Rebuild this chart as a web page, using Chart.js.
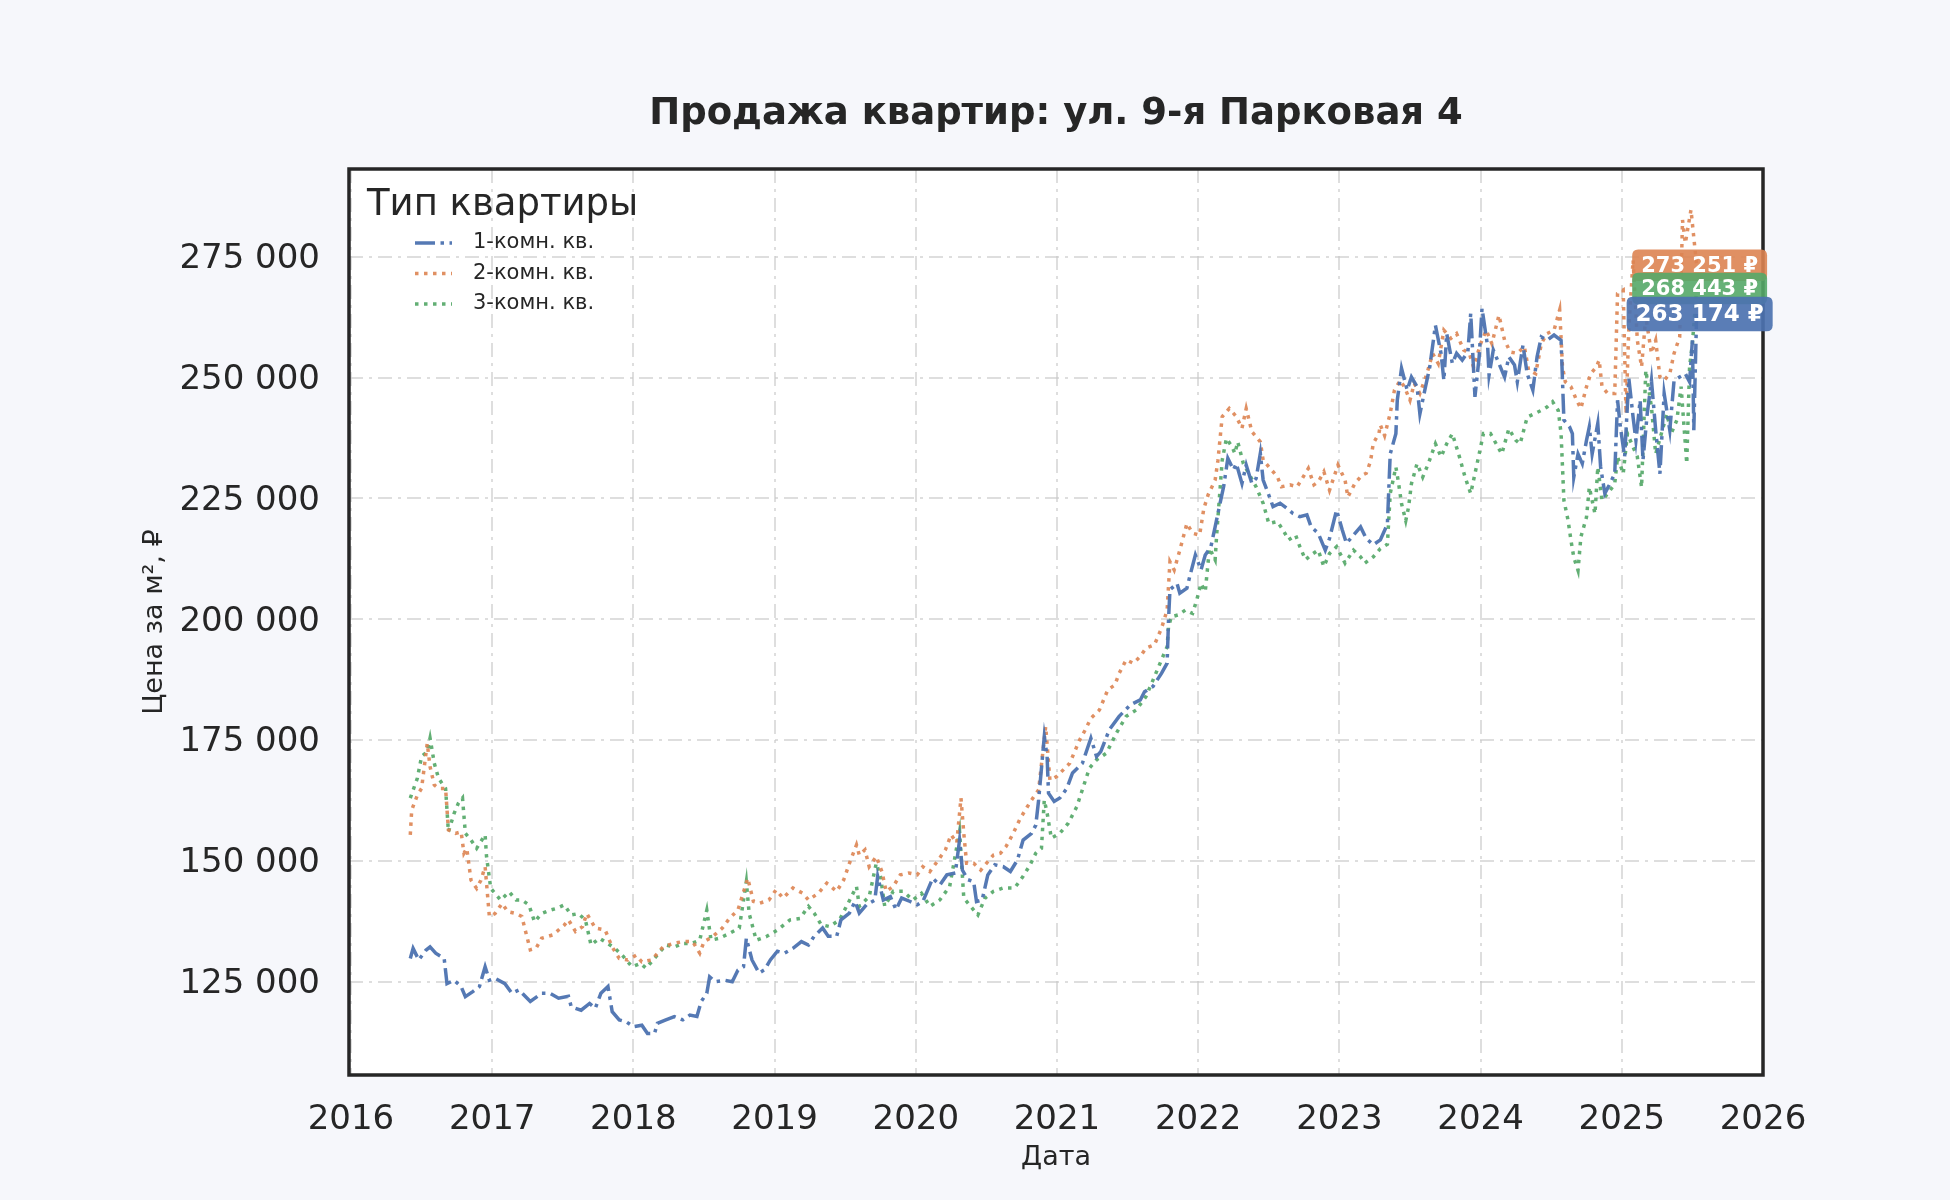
<!DOCTYPE html>
<html lang="ru">
<head>
<meta charset="utf-8">
<title>Продажа квартир: ул. 9-я Парковая 4</title>
<script src="https://cdn.jsdelivr.net/npm/chart.js"></script>
<style>
  html, body { margin: 0; padding: 0; background: #f6f7fb; }
  canvas { display: block; }
</style>
</head>
<body>
<canvas id="chart" width="1950" height="1200"></canvas>
<script>
// --- data ---
const yearTicks = [2016, 2017, 2018, 2019, 2020, 2021, 2022, 2023, 2024, 2025, 2026];
const priceTicks = [125000, 150000, 175000, 200000, 225000, 250000, 275000];
const seriesNames = ['1-комн. кв.', '2-комн. кв.', '3-комн. кв.'];

// 1-комн. кв.
const dates1 = [2016.42, 2016.44, 2016.48, 2016.53, 2016.56, 2016.60, 2016.66, 2016.68, 2016.73, 2016.78, 2016.81, 2016.86, 2016.91, 2016.95, 2016.98,
  2017.02, 2017.09, 2017.14, 2017.19, 2017.27, 2017.35, 2017.41, 2017.47, 2017.54, 2017.56, 2017.63, 2017.69, 2017.73, 2017.77, 2017.82, 2017.85, 2017.90, 2017.95,
  2018.00, 2018.06, 2018.10, 2018.15, 2018.17, 2018.23, 2018.29, 2018.35, 2018.40, 2018.45, 2018.48, 2018.52, 2018.54, 2018.58, 2018.65, 2018.70, 2018.74, 2018.78, 2018.80, 2018.84, 2018.89, 2018.93, 2018.97,
  2019.02, 2019.07, 2019.13, 2019.19, 2019.24, 2019.28, 2019.34, 2019.38, 2019.44, 2019.47, 2019.53, 2019.57, 2019.60, 2019.65, 2019.71, 2019.73, 2019.77, 2019.82, 2019.86, 2019.90, 2019.96,
  2020.01, 2020.05, 2020.12, 2020.17, 2020.22, 2020.28, 2020.31, 2020.33, 2020.37, 2020.41, 2020.43, 2020.47, 2020.51, 2020.56, 2020.62, 2020.67, 2020.72, 2020.76, 2020.82, 2020.85, 2020.87, 2020.91, 2020.93, 2020.94, 2020.98,
  2021.02, 2021.07, 2021.11, 2021.18, 2021.24, 2021.28, 2021.31, 2021.37, 2021.44, 2021.52, 2021.59, 2021.62, 2021.68, 2021.74, 2021.78, 2021.79, 2021.80, 2021.85, 2021.87, 2021.92, 2021.94, 2021.98,
  2022.02, 2022.05, 2022.09, 2022.12, 2022.15, 2022.18, 2022.21, 2022.25, 2022.27, 2022.31, 2022.34, 2022.38, 2022.41, 2022.44, 2022.46, 2022.50, 2022.53, 2022.58, 2022.63, 2022.67, 2022.72, 2022.77, 2022.80, 2022.85, 2022.90, 2022.93, 2022.98,
  2023.02, 2023.05, 2023.10, 2023.15, 2023.19, 2023.24, 2023.29, 2023.34, 2023.36, 2023.40, 2023.41, 2023.44, 2023.48, 2023.51, 2023.55, 2023.57, 2023.61, 2023.64, 2023.68, 2023.72, 2023.74, 2023.76, 2023.80, 2023.83, 2023.87, 2023.91, 2023.93, 2023.96, 2023.99,
  2024.01, 2024.05, 2024.06, 2024.09, 2024.13, 2024.17, 2024.20, 2024.24, 2024.26, 2024.30, 2024.33, 2024.37, 2024.40, 2024.43, 2024.47, 2024.52, 2024.57, 2024.58, 2024.59, 2024.63, 2024.65, 2024.66, 2024.69, 2024.72, 2024.75, 2024.77, 2024.79, 2024.83, 2024.85, 2024.88, 2024.91, 2024.95, 2024.97, 2024.99,
  2025.02, 2025.05, 2025.08, 2025.10, 2025.13, 2025.15, 2025.18, 2025.21, 2025.24, 2025.27, 2025.30, 2025.34, 2025.37, 2025.41, 2025.45, 2025.48, 2025.50, 2025.51, 2025.53];
const price1 = [129800, 131900, 129500, 131500, 132200, 130900, 129800, 124600, 125300, 124000, 121900, 122900, 124000, 128100, 125300,
  125700, 124600, 122600, 123300, 120900, 122600, 122600, 121600, 122000, 119800, 119100, 120500, 119500, 122600, 124000, 118800, 117100, 116700,
  115700, 116000, 114300, 114300, 116400, 117100, 117800, 117100, 118100, 117800, 120900, 122600, 126000, 125000, 125300, 125000, 127400, 128100, 134000, 129500, 126800, 127500, 129500,
  131300, 130900, 131900, 133300, 132600, 134400, 136100, 134400, 134400, 137800, 139200, 141600, 139200, 140900, 141900, 146800, 141900, 142600, 139900, 142300, 141600,
  140900, 141600, 146400, 145000, 147100, 147500, 154300, 148100, 146100, 145700, 141600, 141900, 147100, 149200, 148800, 147800, 150200, 154300, 155700, 157400, 162600, 175700, 171600, 164000, 162300,
  163000, 165000, 168200, 170200, 175400, 171600, 172600, 177100, 179900, 182300, 183300, 185000, 186100, 188800, 190900, 199900, 206100, 207400, 205400, 206400, 208800, 213300,
  210200, 213300, 215000, 219100, 223300, 227400, 233300, 230900, 232200, 228100, 231900, 228100, 229100, 234300, 228800, 225700, 223300, 224000, 222900, 221900, 221200, 221600, 219100, 217800, 214300, 216700, 222600,
  218500, 215700, 217400, 219100, 216700, 215400, 216400, 219700, 234200, 238400, 245300, 251900, 247400, 250100, 248100, 242500, 248100, 252200, 260800, 255000, 249400, 259100, 252900, 255000, 253600, 255300, 263300, 246000, 254300,
  264300, 256400, 250500, 255700, 252900, 250100, 254300, 252600, 249100, 256700, 250800, 247400, 254300, 258400, 257700, 258800, 257700, 249400, 241200, 239800, 238400, 229400, 234200, 232200, 237000, 239800, 234200, 240500, 231500, 226000, 227700, 230100, 245300, 239800,
  233600, 249800, 241800, 237000, 245300, 232900, 242500, 249400, 239100, 230100, 246700, 239100, 249400, 250100, 250800, 249100, 257700, 239100, 263174];

// 2-комн. кв.
const dates2 = [2016.42, 2016.43, 2016.47, 2016.50, 2016.54, 2016.56, 2016.59, 2016.62, 2016.67, 2016.69, 2016.74, 2016.78, 2016.80, 2016.82, 2016.85, 2016.89, 2016.92, 2016.95, 2016.98,
  2017.02, 2017.07, 2017.11, 2017.17, 2017.21, 2017.24, 2017.27, 2017.31, 2017.35, 2017.43, 2017.51, 2017.54, 2017.59, 2017.64, 2017.67, 2017.73, 2017.80, 2017.85, 2017.90, 2017.96,
  2018.02, 2018.06, 2018.13, 2018.21, 2018.28, 2018.35, 2018.42, 2018.47, 2018.50, 2018.56, 2018.63, 2018.68, 2018.74, 2018.81, 2018.85, 2018.89, 2018.96,
  2019.01, 2019.06, 2019.13, 2019.20, 2019.24, 2019.31, 2019.37, 2019.44, 2019.49, 2019.53, 2019.58, 2019.60, 2019.64, 2019.67, 2019.72, 2019.76, 2019.79, 2019.84, 2019.89, 2019.95,
  2020.01, 2020.05, 2020.10, 2020.16, 2020.21, 2020.25, 2020.29, 2020.32, 2020.34, 2020.36, 2020.41, 2020.46, 2020.50, 2020.55, 2020.60, 2020.64, 2020.69, 2020.74, 2020.79, 2020.82, 2020.87, 2020.92, 2020.95,
  2021.00, 2021.09, 2021.16, 2021.20, 2021.24, 2021.30, 2021.36, 2021.41, 2021.44, 2021.49, 2021.54, 2021.59, 2021.63, 2021.69, 2021.74, 2021.78, 2021.80, 2021.83, 2021.87, 2021.92, 2021.96,
  2022.01, 2022.04, 2022.07, 2022.12, 2022.14, 2022.17, 2022.22, 2022.27, 2022.31, 2022.34, 2022.38, 2022.44, 2022.46, 2022.51, 2022.56, 2022.59, 2022.65, 2022.70, 2022.73, 2022.78, 2022.82, 2022.85, 2022.89, 2022.93, 2022.99,
  2023.04, 2023.06, 2023.11, 2023.16, 2023.19, 2023.22, 2023.24, 2023.28, 2023.29, 2023.32, 2023.36, 2023.39, 2023.43, 2023.46, 2023.50, 2023.53, 2023.57, 2023.62, 2023.66, 2023.70, 2023.74, 2023.79, 2023.83, 2023.88, 2023.92, 2023.95,
  2024.00, 2024.04, 2024.08, 2024.13, 2024.17, 2024.21, 2024.26, 2024.31, 2024.34, 2024.39, 2024.43, 2024.47, 2024.52, 2024.56, 2024.58, 2024.60, 2024.64, 2024.68, 2024.71, 2024.75, 2024.78, 2024.82, 2024.84, 2024.86, 2024.90, 2024.95, 2024.97,
  2025.01, 2025.03, 2025.05, 2025.08, 2025.11, 2025.14, 2025.17, 2025.21, 2025.24, 2025.27, 2025.30, 2025.34, 2025.37, 2025.41, 2025.43, 2025.45, 2025.49, 2025.53];
const price2 = [155400, 160500, 163600, 165000, 174300, 169500, 165700, 165000, 165000, 156400, 155700, 156000, 151600, 152600, 146000, 144300, 146000, 148800, 138500,
  139100, 141200, 139500, 139100, 138500, 135000, 131600, 131900, 134000, 134700, 136700, 137800, 135400, 136400, 139100, 136100, 135700, 132200, 129800, 129500,
  130500, 129100, 129500, 132200, 132900, 133300, 133300, 130900, 133300, 134300, 136100, 138100, 139800, 146400, 141600, 141200, 141900,
  144000, 142300, 144400, 143300, 141900, 143300, 145400, 143700, 146100, 149500, 153300, 151200, 152300, 148800, 150900, 147800, 143700, 144700, 147100, 147500,
  147100, 148800, 147800, 150200, 152300, 155400, 153700, 163000, 155700, 149500, 149500, 148100, 149500, 151200, 151600, 153000, 155700, 158800, 161200, 162600, 164700, 177800, 166700,
  167500, 170200, 175000, 177100, 179500, 181200, 185400, 186400, 188800, 191600, 190900, 192300, 194000, 194700, 198100, 201900, 211900, 210200, 214300, 219800, 217800,
  217400, 222900, 225700, 228800, 232900, 241900, 243600, 241900, 239500, 243600, 238800, 236700, 232900, 231200, 229500, 227400, 227800, 227400, 228800, 231200, 227800, 228400, 230500, 226700, 231900,
  228800, 225300, 228100, 229800, 230200, 232600, 236400, 238400, 240200, 238000, 242600, 247400, 249400, 248100, 245300, 248800, 246700, 250800, 255000, 252900, 259800, 258100, 259100, 255700, 255000, 252200,
  257000, 259800, 257000, 262900, 257700, 255300, 255000, 256400, 251500, 250800, 257000, 259100, 259800, 264000, 252200, 249100, 248100, 245300, 243600, 248100, 250800, 252200, 253600, 248100, 246700, 246700, 267400,
  268100, 242500, 260500, 274300, 257700, 252200, 262600, 255000, 257700, 250100, 249400, 250800, 255000, 258400, 282600, 277800, 284700, 273251];

// 3-комн. кв.
const dates3 = [2016.42, 2016.47, 2016.50, 2016.54, 2016.56, 2016.59, 2016.62, 2016.67, 2016.69, 2016.73, 2016.76, 2016.79, 2016.81, 2016.85, 2016.89, 2016.95, 2016.96, 2016.99,
  2017.02, 2017.06, 2017.12, 2017.17, 2017.21, 2017.26, 2017.30, 2017.35, 2017.41, 2017.46, 2017.51, 2017.56, 2017.61, 2017.66, 2017.70, 2017.76, 2017.82, 2017.87, 2017.93, 2017.99,
  2018.05, 2018.09, 2018.16, 2018.23, 2018.29, 2018.35, 2018.41, 2018.47, 2018.52, 2018.55, 2018.61, 2018.68, 2018.75, 2018.80, 2018.82, 2018.87, 2018.94,
  2019.02, 2019.11, 2019.18, 2019.24, 2019.28, 2019.33, 2019.39, 2019.46, 2019.52, 2019.58, 2019.60, 2019.67, 2019.72, 2019.75, 2019.78, 2019.84, 2019.91, 2019.98,
  2020.04, 2020.10, 2020.17, 2020.24, 2020.31, 2020.34, 2020.38, 2020.44, 2020.49, 2020.55, 2020.62, 2020.70, 2020.76, 2020.81, 2020.85, 2020.89, 2020.91, 2020.93, 2020.96,
  2021.02, 2021.08, 2021.14, 2021.23, 2021.28, 2021.35, 2021.42, 2021.49, 2021.56, 2021.63, 2021.68, 2021.74, 2021.78, 2021.79, 2021.81, 2021.86, 2021.91, 2021.96, 2021.99,
  2022.02, 2022.05, 2022.08, 2022.12, 2022.13, 2022.17, 2022.20, 2022.24, 2022.26, 2022.28, 2022.32, 2022.37, 2022.41, 2022.46, 2022.50, 2022.56, 2022.60, 2022.64, 2022.69, 2022.72, 2022.76, 2022.80, 2022.85, 2022.89, 2022.93, 2022.98,
  2023.04, 2023.10, 2023.15, 2023.18, 2023.24, 2023.29, 2023.34, 2023.36, 2023.40, 2023.42, 2023.44, 2023.47, 2023.49, 2023.51, 2023.55, 2023.59, 2023.63, 2023.68, 2023.72, 2023.76, 2023.80, 2023.85, 2023.89, 2023.93, 2023.96, 2023.99,
  2024.02, 2024.07, 2024.11, 2024.15, 2024.20, 2024.25, 2024.28, 2024.33, 2024.38, 2024.43, 2024.47, 2024.51, 2024.55, 2024.57, 2024.58, 2024.59, 2024.62, 2024.64, 2024.66, 2024.69, 2024.71, 2024.75, 2024.77, 2024.81, 2024.83, 2024.86, 2024.90, 2024.95, 2024.97,
  2025.01, 2025.04, 2025.08, 2025.11, 2025.14, 2025.17, 2025.21, 2025.24, 2025.28, 2025.32, 2025.35, 2025.39, 2025.42, 2025.46, 2025.48, 2025.50, 2025.53];
const price3 = [163000, 167100, 171600, 172600, 175400, 170200, 167100, 165000, 156000, 159800, 161900, 163000, 155700, 154300, 152600, 155400, 150900, 144300,
  143300, 141900, 143600, 141900, 141900, 140900, 137400, 139100, 139800, 140200, 140900, 138800, 139100, 137800, 132600, 134000, 132900, 131900, 130200, 128100,
  128800, 127800, 130200, 132600, 132200, 132900, 132900, 133600, 139800, 133600, 134000, 135000, 136100, 145700, 139100, 133600, 134300,
  135700, 137800, 138100, 140600, 139200, 136800, 136400, 137800, 141200, 144700, 140600, 142600, 149500, 146800, 140600, 143700, 143700, 141900,
  143300, 140600, 141900, 144700, 156100, 142300, 140900, 138800, 142300, 143700, 144400, 144400, 146800, 149200, 151600, 152600, 162600, 159900, 154700,
  155700, 157800, 161200, 169200, 170900, 172300, 176400, 179900, 181200, 184000, 187400, 191600, 194300, 198500, 200500, 200900, 201900, 201200, 204000,
  207400, 205700, 214700, 212300, 217100, 232900, 237400, 235700, 234300, 236700, 232200, 229500, 227400, 224000, 219800, 220200, 218500, 216400, 217400, 215000, 212300, 213300, 214300, 210900, 213600, 215000,
  211600, 214300, 212900, 211600, 212900, 214600, 215500, 226000, 231500, 228000, 223900, 220400, 223200, 228000, 232200, 229400, 232200, 236300, 233600, 236300, 238400, 233600, 229400, 226000, 230100, 234200,
  238400, 238400, 236300, 234200, 239400, 237000, 236300, 241800, 242500, 243200, 243900, 245000, 243200, 238400, 231500, 224600, 220400, 216300, 212800, 210100, 217000, 221100, 227300, 221800, 231500, 224600, 226000, 228000, 233600,
  230100, 238400, 235600, 233600, 227300, 251500, 243900, 234200, 238400, 242500, 238400, 241200, 248100, 232200, 252200, 257000, 268443];

const seriesColors = ['rgba(76,114,176,0.95)', 'rgba(221,132,82,0.9)', 'rgba(85,168,104,0.92)'];
const seriesDashes = [[20, 5.5, 3.5, 5.5], [3.5, 5.5], [3.5, 5.5]];

const INK = '#262626';
const FONT = '"DejaVu Sans", "Noto Sans", sans-serif';

function fmt(v) {
  return String(Math.round(v)).replace(/\B(?=(\d{3})+(?!\d))/g, ' ');
}

function toPoints(xs, ys) {
  return xs.map((x, i) => ({ x: x, y: ys[i] }));
}

function roundBox(ctx, x, y, w, h, r) {
  ctx.beginPath();
  ctx.moveTo(x + r, y);
  ctx.lineTo(x + w - r, y);
  ctx.quadraticCurveTo(x + w, y, x + w, y + r);
  ctx.lineTo(x + w, y + h - r);
  ctx.quadraticCurveTo(x + w, y + h, x + w - r, y + h);
  ctx.lineTo(x + r, y + h);
  ctx.quadraticCurveTo(x, y + h, x, y + h - r);
  ctx.lineTo(x, y + r);
  ctx.quadraticCurveTo(x, y, x + r, y);
  ctx.closePath();
}

// background, frame, titles, legend, last-value badges
const decor = {
  id: 'decor',
  beforeDraw(chart) {
    const { ctx, chartArea: a } = chart;
    ctx.save();
    ctx.fillStyle = '#f6f7fb';
    ctx.fillRect(0, 0, chart.width, chart.height);
    ctx.fillStyle = '#ffffff';
    ctx.fillRect(a.left, a.top, a.right - a.left, a.bottom - a.top);
    ctx.restore();
  },
  afterDraw(chart) {
    const { ctx, chartArea: a } = chart;
    const xs = chart.scales.x, ys = chart.scales.y;
    ctx.save();

    // frame
    ctx.strokeStyle = INK;
    ctx.lineWidth = 3.5;
    ctx.setLineDash([]);
    ctx.strokeRect(a.left, a.top, a.right - a.left, a.bottom - a.top);

    // title
    ctx.fillStyle = INK;
    ctx.textAlign = 'center';
    ctx.textBaseline = 'alphabetic';
    ctx.font = 'bold 37px ' + FONT;
    ctx.fillText('Продажа квартир: ул. 9-я Парковая 4', (a.left + a.right) / 2, 124);

    // axis titles
    ctx.font = '27px ' + FONT;
    ctx.textBaseline = 'middle';
    ctx.fillText('Дата', (a.left + a.right) / 2, 1158);
    ctx.save();
    ctx.translate(155, (a.top + a.bottom) / 2);
    ctx.rotate(-Math.PI / 2);
    ctx.fillText('Цена за м², ₽', 0, 0);
    ctx.restore();

    // legend
    ctx.textAlign = 'left';
    ctx.textBaseline = 'alphabetic';
    ctx.font = '37px ' + FONT;
    ctx.fillText('Тип квартиры', 367, 215);
    ctx.font = '21px ' + FONT;
    seriesNames.forEach((name, i) => {
      const y = 243 + i * 30.5;
      ctx.strokeStyle = seriesColors[i];
      ctx.lineWidth = 3.5;
      ctx.lineCap = 'butt';
      ctx.setLineDash(seriesDashes[i]);
      ctx.beginPath();
      ctx.moveTo(415, y);
      ctx.lineTo(452, y);
      ctx.stroke();
      ctx.setLineDash([]);
      ctx.fillStyle = INK;
      ctx.textBaseline = 'middle';
      ctx.fillText(name, 473, y);
    });

    // last-value badges: orange, green, then blue on top
    const lasts = [
      [dates1[dates1.length - 1], price1[price1.length - 1]],
      [dates2[dates2.length - 1], price2[price2.length - 1]],
      [dates3[dates3.length - 1], price3[price3.length - 1]]
    ];
    const badgeFont = [23, 21, 21];
    const badgeFill = ['rgba(76,114,176,0.92)', 'rgba(221,132,82,0.9)', 'rgba(85,168,104,0.9)'];
    [1, 2, 0].forEach(i => {
      const label = fmt(lasts[i][1]) + ' ₽';
      const cx = xs.getPixelForValue(lasts[i][0]) + 3;
      const cy = ys.getPixelForValue(lasts[i][1]);
      ctx.font = 'bold ' + badgeFont[i] + 'px ' + FONT;
      const w = ctx.measureText(label).width + 18;
      const h = badgeFont[i] * 1.5;
      ctx.fillStyle = badgeFill[i];
      roundBox(ctx, cx - w / 2, cy - h / 2, w, h, 6);
      ctx.fill();
      ctx.fillStyle = '#ffffff';
      ctx.textAlign = 'center';
      ctx.textBaseline = 'middle';
      ctx.fillText(label, cx, cy + 1);
    });

    ctx.restore();
  }
};

const datasets = [
  { label: seriesNames[0], data: toPoints(dates1, price1) },
  { label: seriesNames[1], data: toPoints(dates2, price2) },
  { label: seriesNames[2], data: toPoints(dates3, price3) }
].map((d, i) => Object.assign(d, {
  borderColor: seriesColors[i],
  borderWidth: 3.5,
  borderDash: seriesDashes[i],
  borderCapStyle: 'butt',
  pointRadius: 0,
  tension: 0,
  fill: false
}));

const gridStyle = {
  color: 'rgba(200,200,200,0.6)',
  lineWidth: 2,
  drawTicks: false
};

new Chart(document.getElementById('chart'), {
  type: 'line',
  data: { datasets: datasets },
  options: {
    responsive: false,
    devicePixelRatio: 1,
    animation: false,
    layout: { padding: { top: 169, right: 187, left: 0, bottom: 0 } },
    plugins: {
      legend: { display: false },
      title: { display: false },
      tooltip: { enabled: false }
    },
    scales: {
      x: {
        type: 'linear',
        min: 2015.986,
        max: 2026,
        afterFit: s => { s.height = 125; },
        afterBuildTicks: s => { s.ticks = yearTicks.map(v => ({ value: v })); },
        grid: gridStyle,
        border: { display: false, dash: [14, 6, 3, 6] },
        ticks: {
          padding: 25,
          color: INK,
          font: { family: FONT, size: 34 },
          maxRotation: 0,
          callback: v => String(v)
        }
      },
      y: {
        min: 105700,
        max: 293150,
        afterFit: s => { s.width = 349; },
        afterBuildTicks: s => { s.ticks = priceTicks.map(v => ({ value: v })); },
        grid: gridStyle,
        border: { display: false, dash: [14, 6, 3, 6] },
        ticks: {
          padding: 29,
          labelOffset: 2.5,
          color: INK,
          font: { family: FONT, size: 34 },
          callback: v => fmt(v)
        }
      }
    }
  },
  plugins: [decor]
});
</script>
</body>
</html>
